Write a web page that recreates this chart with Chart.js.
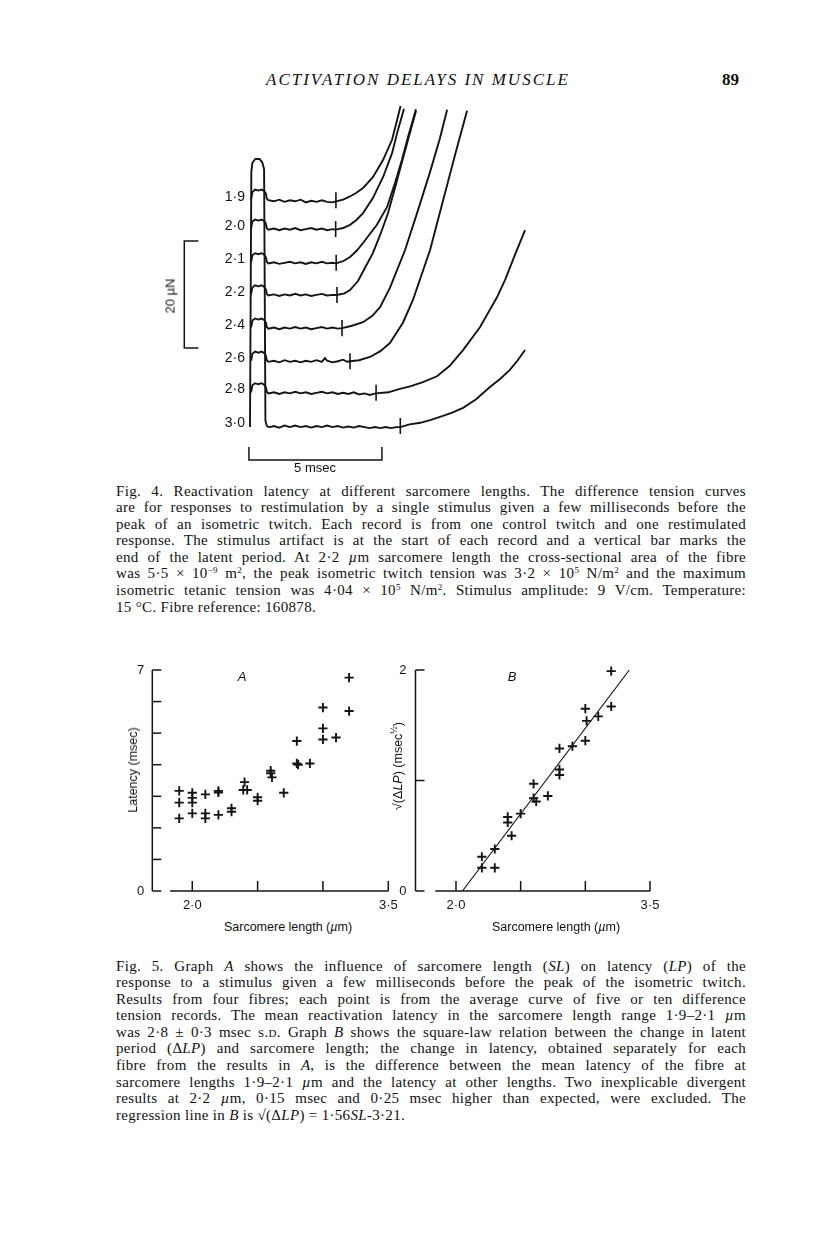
<!DOCTYPE html>
<html>
<head>
<meta charset="utf-8">
<script src="https://cdn.jsdelivr.net/npm/chart.js@4.4.0/dist/chart.umd.min.js"></script>
<style>
  html, body { margin: 0; padding: 0; background: #fff; }
  #page { position: relative; width: 816px; height: 1243px; overflow: hidden; background: #fff; color: #111; }
  canvas { position: absolute; }
  .abs { position: absolute; white-space: nowrap; }
  .c { transform: translate(-50%, -50%); }
  .rot { transform: translate(-50%, -50%) rotate(-90deg); }
  .sans { font-family: "Liberation Sans", Arial, sans-serif; }
  .serif { font-family: "Liberation Serif", "Times New Roman", serif; }
  .cap { position: absolute; left: 116px; width: 630px; font-family: "Liberation Serif", "Times New Roman", serif; font-size: 15px; letter-spacing: 0.32px; color: #111; }
  .cap div { height: 16.55px; line-height: 16.55px; text-align: justify; text-align-last: justify; white-space: nowrap; }
  .cap div.last { text-align-last: left; }
  sup { font-size: 9px; line-height: 0; vertical-align: 5px; }
  .sc { font-variant: small-caps; }
</style>
</head>
<body>
<div id="page">
  <div class="abs serif" style="left:266px; top:70px; font-size:17px; font-style:italic; letter-spacing:2px;">ACTIVATION DELAYS IN MUSCLE</div>
  <div class="abs serif" style="left:722px; top:70px; font-size:17px; font-weight:bold;">89</div>

  <canvas id="fig4" width="420" height="384" style="left:140px; top:96px;"></canvas>
  <div class="abs sans c" style="left:315px; top:467px; font-size:13px;">5 msec</div>
  <div class="abs sans rot" style="left:170px; top:296px; font-size:13px;">20 µN</div>

  <div class="cap" style="top:482.7px;">
    <div>Fig. 4. Reactivation latency at different sarcomere lengths. The difference tension curves</div>
    <div>are for responses to restimulation by a single stimulus given a few milliseconds before the</div>
    <div>peak of an isometric twitch. Each record is from one control twitch and one restimulated</div>
    <div>response. The stimulus artifact is at the start of each record and a vertical bar marks the</div>
    <div>end of the latent period. At 2·2 <i>µ</i>m sarcomere length the cross-sectional area of the fibre</div>
    <div>was 5·5 × 10<sup>−9</sup> m<sup>2</sup>, the peak isometric twitch tension was 3·2 × 10<sup>5</sup> N/m<sup>2</sup> and the maximum</div>
    <div>isometric tetanic tension was 4·04 × 10<sup>5</sup> N/m<sup>2</sup>. Stimulus amplitude: 9 V/cm. Temperature:</div>
    <div class="last">15 °C. Fibre reference: 160878.</div>
  </div>

  <canvas id="fig5a" width="280" height="270" style="left:130px; top:650px;"></canvas>
  <canvas id="fig5b" width="280" height="270" style="left:390px; top:650px;"></canvas>
  <div class="abs sans c" style="left:242px; top:676px; font-size:13px; font-style:italic;">A</div>
  <div class="abs sans c" style="left:512px; top:676px; font-size:13px; font-style:italic;">B</div>
  <div class="abs sans rot" style="left:133px; top:770px; font-size:12.5px;">Latency (msec)</div>
  <div class="abs sans rot" style="left:398px; top:766px; font-size:12.5px;">√(Δ<i>LP</i>) (msec<sup>½</sup>)</div>
  <div class="abs sans c" style="left:288px; top:927px; font-size:12.5px;">Sarcomere length (<i>µ</i>m)</div>
  <div class="abs sans c" style="left:556px; top:927px; font-size:12.5px;">Sarcomere length (<i>µ</i>m)</div>

  <div class="cap" style="top:957.7px;">
    <div>Fig. 5. Graph <i>A</i> shows the influence of sarcomere length (<i>SL</i>) on latency (<i>LP</i>) of the</div>
    <div>response to a stimulus given a few milliseconds before the peak of the isometric twitch.</div>
    <div>Results from four fibres; each point is from the average curve of five or ten difference</div>
    <div>tension records. The mean reactivation latency in the sarcomere length range 1·9–2·1 <i>µ</i>m</div>
    <div>was 2·8 ± 0·3 msec <span class="sc">s.d.</span> Graph <i>B</i> shows the square-law relation between the change in latent</div>
    <div>period (Δ<i>LP</i>) and sarcomere length; the change in latency, obtained separately for each</div>
    <div>fibre from the results in <i>A</i>, is the difference between the mean latency of the fibre at</div>
    <div>sarcomere lengths 1·9–2·1 <i>µ</i>m and the latency at other lengths. Two inexplicable divergent</div>
    <div>results at 2·2 <i>µ</i>m, 0·15 msec and 0·25 msec higher than expected, were excluded. The</div>
    <div class="last">regression line in <i>B</i> is √(Δ<i>LP</i>) = 1·56<i>SL</i>-3·21.</div>
  </div>
</div>

<script>
// ---- Fig. 4: records, time in msec, tension in µN (3·0 record baseline = 0) ----
const recordLabels = ['1·9', '2·0', '2·1', '2·2', '2·4', '2·6', '2·8', '3·0'];
const recordBaselines = [42.2, 36.8, 30.5, 24.5, 18.3, 12.1, 6.2, 0.0];
const latencyMarks = [3.23, 3.22, 3.24, 3.27, 3.46, 3.76, 4.74, 5.65];

const trace19 = [[0.04,42.3],[0.09,43.7],[0.19,44.2],[0.31,44.0],[0.44,44.2],[0.54,43.9],[0.6,43.4],[0.63,42.5],[0.69,42.2],
  [0.9,42.0],[1.1,42.3],[1.3,41.9],[1.5,42.2],[1.7,42.0],[1.9,42.3],[2.1,41.8],[2.3,42.1],[2.5,41.9],[2.7,42.2],[2.9,41.9],[3.1,41.8],
  [3.23,42.0],[3.5,42.3],[3.76,42.9],[4.0,43.6],[4.25,44.5],[4.62,46.5],[5.0,49.7],[5.34,53.5],[5.53,57.2],[5.66,59.8]];
const trace20 = [[0.04,36.9],[0.09,38.2],[0.19,38.6],[0.31,38.4],[0.44,38.6],[0.54,38.3],[0.6,37.8],[0.63,37.0],[0.69,36.7],
  [0.9,36.9],[1.1,36.6],[1.3,36.9],[1.5,36.7],[1.7,37.0],[1.9,36.6],[2.1,36.8],[2.3,37.0],[2.5,36.7],[2.7,36.9],[2.9,36.6],[3.1,36.8],
  [3.22,36.7],[3.5,37.0],[3.76,37.6],[4.0,38.5],[4.25,39.8],[4.62,42.6],[5.0,46.5],[5.34,51.0],[5.56,55.3],[5.79,59.3]];
const trace21 = [[0.04,30.6],[0.09,31.9],[0.19,32.3],[0.31,32.1],[0.44,32.3],[0.54,32.0],[0.6,31.5],[0.63,30.7],[0.69,30.4],
  [0.9,30.6],[1.1,30.3],[1.3,30.5],[1.5,30.7],[1.7,30.4],[1.9,30.6],[2.1,30.3],[2.3,30.6],[2.5,30.4],[2.7,30.7],[2.9,30.4],[3.1,30.5],
  [3.24,30.4],[3.5,30.8],[3.76,31.6],[4.0,32.7],[4.25,34.2],[4.77,37.6],[5.15,40.9],[5.45,45.4],[5.71,49.7],[5.94,54.0],[6.24,59.2]];
const trace22 = [[0.04,24.6],[0.09,25.9],[0.19,26.3],[0.31,26.1],[0.44,26.3],[0.54,26.0],[0.6,25.5],[0.63,24.7],[0.69,24.4],
  [0.9,24.6],[1.1,24.3],[1.3,24.6],[1.5,24.4],[1.7,24.7],[1.9,24.4],[2.1,24.6],[2.3,24.3],[2.5,24.5],[2.7,24.7],[2.9,24.4],[3.1,24.5],
  [3.27,24.5],[3.55,24.8],[3.76,25.4],[4.06,27.1],[4.35,29.8],[4.62,32.3],[4.9,35.8],[5.19,39.8],[5.45,44.5],[5.71,49.3],[5.98,54.2],[6.24,58.9]];
const trace24 = [[0.04,18.4],[0.09,19.7],[0.19,20.1],[0.31,19.9],[0.44,20.1],[0.54,19.8],[0.6,19.3],[0.63,18.5],[0.69,18.2],
  [0.9,18.4],[1.1,18.1],[1.3,18.4],[1.5,18.2],[1.7,18.5],[1.9,18.2],[2.1,18.4],[2.3,18.1],[2.5,18.3],[2.7,18.5],[2.9,18.2],[3.1,18.4],[3.3,18.2],
  [3.46,18.3],[3.8,18.7],[4.25,19.4],[4.6,20.6],[4.89,22.2],[5.26,25.8],[5.83,32.9],[6.32,40.4],[6.77,47.5],[7.14,53.8],[7.41,59.1]];
const trace26 = [[0.04,12.2],[0.09,13.5],[0.19,13.9],[0.31,13.7],[0.44,13.9],[0.54,13.6],[0.6,13.1],[0.63,12.3],[0.69,12.0],
  [0.9,12.2],[1.1,11.9],[1.3,12.3],[1.5,12.0],[1.7,12.2],[1.9,11.9],[2.1,12.2],[2.3,12.0],[2.5,12.3],[2.7,12.0],[2.82,12.7],[2.9,12.2],[3.1,11.9],[3.3,12.1],[3.5,12.4],[3.65,12.0],
  [3.76,12.1],[4.1,12.3],[4.51,12.9],[4.9,14.0],[5.26,15.5],[5.75,19.3],[6.13,23.6],[6.28,25.8],[6.77,32.9],[7.26,42.2],[7.71,50.7],[8.16,58.9]];
const trace28 = [[0.04,6.3],[0.09,7.6],[0.19,8.0],[0.31,7.8],[0.44,8.0],[0.54,7.7],[0.6,7.2],[0.63,6.4],[0.69,6.1],
  [0.9,6.3],[1.1,6.0],[1.3,6.3],[1.5,6.1],[1.7,6.4],[1.9,6.1],[2.1,6.3],[2.3,6.0],[2.5,6.2],[2.7,6.4],[2.9,6.1],[3.1,6.3],[3.3,6.0],[3.5,6.2],[3.7,6.0],[3.9,6.3],[4.1,5.9],[4.3,6.1],[4.5,5.8],[4.65,6.0],
  [4.74,6.1],[5.2,6.3],[5.6,6.9],[6.02,7.4],[6.5,8.2],[7.03,9.3],[7.5,11.2],[8.01,14.2],[8.65,18.5],[9.29,24.1],[9.59,27.3],[9.96,32.0],[10.34,36.6]];
const trace30 = [[0.64,-0.1],[0.75,-0.2],
  [0.9,0.0],[1.1,-0.3],[1.3,0.1],[1.5,-0.2],[1.7,0.1],[1.9,-0.2],[2.1,0.0],[2.3,-0.3],[2.5,0.0],[2.7,-0.2],[2.9,0.1],[3.1,-0.2],[3.3,0.0],[3.5,-0.3],[3.7,-0.1],[3.9,-0.3],[4.1,0.0],[4.3,-0.2],[4.5,-0.4],[4.7,-0.2],[4.9,-0.4],[5.1,-0.2],[5.3,-0.4],[5.5,-0.2],
  [5.65,-0.2],[6.0,0.3],[6.4,0.6],[6.77,1.1],[7.2,1.8],[7.6,2.5],[8.01,3.4],[8.5,5.0],[9.02,7.3],[9.4,8.8],[9.77,10.5],[10.05,12.2],[10.34,14.2]];
const stimulusArtifact = [[0.0,-0.2],[0.05,47.5],[0.09,49.2],[0.2,49.9],[0.36,49.9],[0.46,49.3],[0.53,48.0],[0.58,1.0],[0.64,-0.1]];
const records = [trace19, trace20, trace21, trace22, trace24, trace26, trace28, trace30];

// calibration bars: 5 msec and 20 µN
const timeBar = [[-0.04,-3.9],[-0.04,-6.36],[4.96,-6.36],[4.96,-3.9]];
const forceBar = [[-1.94,34.6],[-2.47,34.6],[-2.47,14.6],[-1.94,14.6]];

// ---- Fig. 5 A: latency (msec) against sarcomere length (µm) ----
const aLength = [1.90,1.90,1.90, 2.00,2.00,2.00,2.00, 2.10,2.10,2.10, 2.20,2.20,2.20, 2.30,2.30,
  2.40,2.39,2.42, 2.50,2.50, 2.60,2.60,2.61, 2.70, 2.80,2.80,2.81, 2.90, 3.00,3.00,3.00, 3.10, 3.20,3.20];
const aLatency = [3.17,2.80,2.30, 3.11,2.95,2.80,2.46, 3.06,2.46,2.30, 3.12,3.17,2.41, 2.62,2.51,
  3.45,3.20,3.20, 2.97,2.86, 3.81,3.73,3.60, 3.11, 4.75,4.04,4.00, 4.04, 5.81,5.15,4.80, 4.86, 6.76,5.70];

// ---- Fig. 5 B: sqrt(delta LP) against sarcomere length ----
const bLength = [2.20,2.20, 2.30,2.30, 2.40,2.40, 2.43, 2.50, 2.60,2.60,2.62, 2.71, 2.80,2.80,2.80, 2.90, 3.00,3.00,3.01, 3.10, 3.20,3.20];
const bSqrtDLP = [0.31,0.21, 0.38,0.21, 0.67,0.62, 0.50, 0.70, 0.97,0.84,0.81, 0.86, 1.29,1.10,1.05, 1.31, 1.65,1.36,1.54, 1.58, 1.99,1.67];
const regressionLine = [[2.05, 0.0], [3.34, 2.0]];

// axis ticks
const xTickValues = [2.0, 2.5, 3.0, 3.5];
const xTickLabels = ['2·0', '', '', '3·5'];
const aYTickValues = [0, 1, 2, 3, 4, 5, 6, 7];
const aYTickLabels = ['0', '', '', '', '', '', '', '7'];
const bYTickValues = [0, 1, 2];
const bYTickLabels = ['0', '', '2'];

const INK = '#141414';
const pts = arr => arr.map(p => ({ x: p[0], y: p[1] }));

// record labels next to each trace
const recordLabelPlugin = {
    id: 'recordLabels',
    afterDatasetsDraw(chart) {
        const { ctx, scales: { x, y } } = chart;
        ctx.save();
        ctx.fillStyle = INK;
        ctx.font = '14px "Liberation Sans", Arial, sans-serif';
        ctx.textAlign = 'right';
        ctx.textBaseline = 'middle';
        recordLabels.forEach((lab, i) => {
            ctx.fillText(lab, x.getPixelForValue(-0.19), y.getPixelForValue(recordBaselines[i] + 0.6));
        });
        ctx.restore();
    }
};

const lineSet = (data, width) => ({
    data: pts(data), showLine: true, pointRadius: 0, borderColor: INK,
    borderWidth: width, tension: 0, clip: false
});

const fig4Sets = records.map(r => lineSet(r, 1.9));
fig4Sets.push(lineSet(stimulusArtifact, 1.9));
latencyMarks.forEach((t, i) => {
    fig4Sets.push(lineSet([[t, recordBaselines[i] - 1.5], [t, recordBaselines[i] + 1.5]], 1.6));
});
fig4Sets.push(lineSet(timeBar, 1.5));
fig4Sets.push(lineSet(forceBar, 1.5));

new Chart(document.getElementById('fig4').getContext('2d'), {
    type: 'scatter',
    data: { datasets: fig4Sets },
    options: {
        responsive: false, animation: false, events: [],
        layout: { padding: 0 },
        plugins: { legend: { display: false }, tooltip: { enabled: false } },
        scales: {
            x: { type: 'linear', display: false, min: -4.135, max: 11.654 },
            y: { type: 'linear', display: false, min: -10.09, max: 61.68 }
        }
    },
    plugins: [recordLabelPlugin]
});

// hand-drawn style frame: inward ticks, x axis line that starts away from the origin
const framePlugin = {
    id: 'frame',
    afterDraw(chart, args, o) {
        const { ctx, chartArea: ca, scales: { x, y } } = chart;
        const bottom = y.getPixelForValue(0);
        const top = y.getPixelForValue(o.yTicks[o.yTicks.length - 1]);
        ctx.save();
        ctx.strokeStyle = INK;
        ctx.fillStyle = INK;
        ctx.lineWidth = 1.5;
        ctx.font = '13px "Liberation Sans", Arial, sans-serif';
        const seg = (x1, y1, x2, y2) => { ctx.beginPath(); ctx.moveTo(x1, y1); ctx.lineTo(x2, y2); ctx.stroke(); };

        seg(ca.left, top, ca.left, bottom);
        ctx.textAlign = 'right';
        ctx.textBaseline = 'middle';
        o.yTicks.forEach((v, i) => {
            const py = y.getPixelForValue(v);
            seg(ca.left, py, ca.left + 9, py);
            if (o.yLabels[i]) ctx.fillText(o.yLabels[i], ca.left - o.labelGap, py);
        });

        const xEnd = x.getPixelForValue(o.xTicks[o.xTicks.length - 1]);
        seg(x.getPixelForValue(o.xStart), bottom, xEnd, bottom);
        ctx.textAlign = 'center';
        ctx.textBaseline = 'top';
        o.xTicks.forEach((v, i) => {
            const px = x.getPixelForValue(v);
            seg(px, bottom, px, bottom - 10);
            if (o.xLabels[i]) ctx.fillText(o.xLabels[i], px, bottom + 8);
        });
        ctx.restore();
    }
};

const crossSet = (xs, ys) => ({
    data: xs.map((v, i) => ({ x: v, y: ys[i] })),
    pointStyle: 'cross', pointRadius: 4.6, borderColor: INK, borderWidth: 1.9, clip: false
});

function scatterChart(id, sets, xMin, yMax, padding, frame) {
    return new Chart(document.getElementById(id).getContext('2d'), {
        type: 'scatter',
        data: { datasets: sets },
        options: {
            responsive: false, animation: false, events: [],
            layout: { padding },
            plugins: { legend: { display: false }, tooltip: { enabled: false }, frame },
            scales: {
                x: { type: 'linear', display: false, min: xMin, max: 3.5 },
                y: { type: 'linear', display: false, min: 0, max: yMax }
            }
        },
        plugins: [framePlugin]
    });
}

scatterChart('fig5a', [crossSet(aLength, aLatency)], 1.694, 7,
    { left: 22.3, top: 20, right: 21.7, bottom: 29 },
    { yTicks: aYTickValues, yLabels: aYTickLabels, xTicks: xTickValues, xLabels: xTickLabels, xStart: 1.83, labelGap: 8 });

scatterChart('fig5b', [
        crossSet(bLength, bSqrtDLP),
        { data: pts(regressionLine), showLine: true, pointRadius: 0, borderColor: INK, borderWidth: 1.2, clip: false }
    ], 1.687, 2,
    { left: 25.5, top: 20, right: 20, bottom: 29 },
    { yTicks: bYTickValues, yLabels: bYTickLabels, xTicks: xTickValues, xLabels: xTickLabels, xStart: 1.84, labelGap: 9 });
</script>
</body>
</html>
